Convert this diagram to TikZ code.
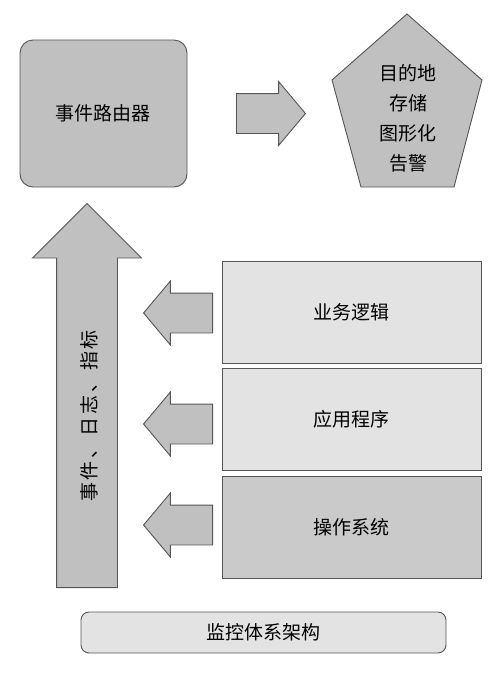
\documentclass[tikz,border=0pt]{standalone}
\usepackage{fontspec}
\setmainfont{Noto Sans CJK SC}
\usetikzlibrary{shapes.arrows}

\definecolor{boxgray}{HTML}{C0C0C0}
\definecolor{layerlight}{HTML}{E3E3E3}
\definecolor{layerdark}{HTML}{CACACA}
\definecolor{edgegray}{HTML}{555555}

\tikzset{
    block/.style={draw=edgegray, line width=0.9pt, fill=boxgray},
    layer/.style={draw=edgegray, line width=0.9pt, minimum width=259pt, minimum height=102pt, inner sep=0pt},
    flatarrow/.style={single arrow, draw=edgegray, fill=boxgray, line width=0.9pt, inner xsep=0pt, inner ysep=19.5pt,
        minimum height=69pt, single arrow head extend=12pt, single arrow tip angle=100},
}

\begin{document}
\begin{tikzpicture}[x=1pt, y=1pt, font=\fontsize{19}{30}\selectfont]
    \useasboundingbox (0,0) rectangle (498,-673);

    \node[block, rounded corners=13pt, minimum width=167pt, minimum height=147pt] (Router) at (103.5,-113.5) {事件路由器};
    \draw[block] (407,-14) -- (482,-80) -- (454,-187) -- (361,-187) -- (332,-80) -- cycle;
    \node[align=center] (Dest) at (408,-118) {目的地\\存储\\图形化\\告警};
    \node[flatarrow, anchor=tail] (ToDest) at (236,-113.5) {};

    \node[single arrow, draw=edgegray, fill=boxgray, line width=0.9pt, inner xsep=30pt, inner ysep=0pt, shape border rotate=90,
        minimum height=384pt, single arrow head extend=24pt, single arrow tip angle=90,
        anchor=tail] (Flow) at (87,-588) {};
    \node[rotate=90, font=\fontsize{19}{30}\selectfont\addfontfeature{LetterSpace=15}] (FlowText) at (89,-416) {事件、日志、指标};

    \node[layer, fill=layerlight] (Biz) at (351.5,-312) {业务逻辑};
    \node[layer, fill=layerlight] (App) at (351.5,-419) {应用程序};
    \node[layer, fill=layerdark] (OS) at (351.5,-527) {操作系统};

    \node[flatarrow, shape border rotate=180, anchor=tail] (FromBiz) at (213,-313) {};
    \node[flatarrow, shape border rotate=180, anchor=tail] (FromApp) at (213,-424) {};
    \node[flatarrow, shape border rotate=180, anchor=tail] (FromOS) at (213,-525) {};

    \node[draw=edgegray, line width=0.9pt, fill=layerlight, rounded corners=8pt, minimum width=365pt, minimum height=41pt] (Arch) at (263.5,-632.5) {监控体系架构};
\end{tikzpicture}
\end{document}
